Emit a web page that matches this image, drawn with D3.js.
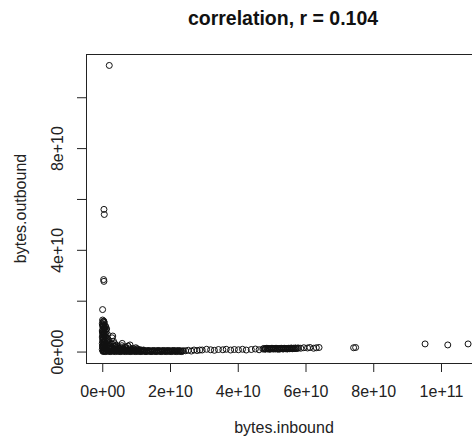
<!DOCTYPE html>
<html>
<head>
<meta charset="utf-8">
<script src="https://cdn.jsdelivr.net/npm/d3@7"></script>
<style>
  html, body { margin: 0; padding: 0; background: #fff; }
  svg { display: block; font-family: "Liberation Sans", Arial, sans-serif; }
</style>
</head>
<body>
<svg id="chart" width="472" height="437"></svg>
<script>
// [bytes.inbound, bytes.outbound] pairs, in units of 1e9 bytes
const topOutliers = [
  [2.07, 112.5], [0.5, 55.9], [0.6, 53.9], [0.4, 28.3], [0.5, 27.6], [0.1, 16.5]
];
const nearZeroColumn = [
  [0.1,12.4],[0.4,12.0],[0.2,11.6],[0.6,11.3],[0.0,10.9],[0.3,10.6],[0.5,10.2],[0.1,9.9],
  [0.4,9.5],[0.7,9.2],[0.2,8.8],[0.5,8.5],[0.0,8.1],[0.3,7.8],[0.6,7.4],[0.1,7.1],
  [0.4,6.7],[0.2,6.4],[0.7,6.0],[0.0,5.7],[0.3,5.3],[0.5,5.0],[0.1,4.6],[0.6,4.3],
  [0.2,3.9],[0.4,3.6],[0.0,3.2],[0.7,2.9],[0.3,2.5],[0.1,2.2],[0.5,1.8],[0.2,1.5],
  [0.6,1.1],[0.0,0.8],[0.4,0.4],[0.2,0.1],
  [0.5,11.8],[0.2,10.4],[0.6,9.0],[0.1,7.6],[0.5,6.2],[0.3,4.8],[0.6,3.4],[0.1,2.0],[0.5,0.6],
  [0.9,10.0],[1.0,8.6],[0.8,7.2],[1.0,5.9],[0.9,4.5],[1.1,3.0],[0.8,1.6]
];
const shoulder = [
  [1.0,9.8],[1.3,8.9],[1.1,7.6],[1.5,6.8],[1.2,5.5],[1.7,4.9],[1.4,3.9],[2.0,3.4],
  [1.6,2.6],[2.3,2.2],[1.9,1.5],[2.6,1.2],[2.2,0.8],[2.9,5.4],[3.3,4.1],[3.0,2.9],
  [3.7,3.1],[3.5,2.0],[4.2,2.5],[4.0,1.5],[4.6,1.9],[4.9,1.0],[5.4,1.6],[5.8,2.3],
  [6.2,1.2],[6.6,1.8],[7.2,1.0],[7.6,2.2],[8.1,1.4],[8.6,0.9],[9.2,1.2],[9.9,1.5],
  [10.6,0.8],[11.3,0.7],[12.2,0.6],[3.1,6.1],[5.9,3.2],[8.2,2.6],
  [1.8,4.2],[2.5,3.0],[2.8,1.8],[3.4,1.1],[3.9,2.2],[4.4,0.9],[5.0,1.3],[5.6,0.7],
  [6.4,0.9],[7.0,1.5],[7.9,0.7],[8.9,0.6],[9.6,0.8],[10.3,1.1]
];
const lowBand = [
  [0.3,0.1],[0.6,0.3],[0.9,0.0],[1.2,0.2],[1.5,0.4],[1.8,0.1],[2.1,0.3],[2.4,0.0],
  [2.7,0.2],[3.0,0.4],[3.3,0.1],[3.6,0.3],[3.9,0.0],[4.2,0.2],[4.5,0.5],[4.8,0.1],
  [5.1,0.3],[5.4,0.0],[5.7,0.2],[6.0,0.4],[6.3,0.1],[6.6,0.3],[6.9,0.0],[7.2,0.2],
  [7.5,0.5],[7.8,0.1],[8.1,0.3],[8.4,0.0],[8.7,0.2],[9.0,0.4],[9.3,0.1],[9.6,0.3],
  [9.9,0.0],[10.2,0.2],[10.5,0.4],[10.8,0.1],[11.1,0.3],[11.4,0.0],[11.7,0.2],[12.0,0.4],
  [12.3,0.1],[12.6,0.3],[12.9,0.0],[13.2,0.2],[13.5,0.4],[13.8,0.1],[14.1,0.3],[14.4,0.0],
  [14.7,0.2],[15.0,0.4],[15.3,0.1],[15.6,0.3],[15.9,0.0],[16.2,0.2],[16.5,0.4],[16.8,0.1],
  [17.1,0.3],[17.4,0.0],[17.7,0.2],[18.0,0.4],[18.3,0.1],[18.6,0.3],[18.9,0.0],[19.2,0.2],
  [19.5,0.4],[19.8,0.1],[20.1,0.3],[20.4,0.0],[20.7,0.2],[21.0,0.4],[21.3,0.1],[21.6,0.3],
  [21.9,0.0],[22.2,0.2],[22.5,0.4],[22.8,0.1],[23.1,0.3],[23.4,0.0],[23.7,0.2],[24.0,0.3],
  [0.45,0.25],[1.05,0.15],[1.65,0.3],[2.25,0.15],[2.85,0.3],[3.45,0.2],[4.05,0.35],[4.65,0.2],
  [5.25,0.15],[5.85,0.3],[6.45,0.2],[7.05,0.35],[7.65,0.15],[8.25,0.2],[8.85,0.3],[9.45,0.2],
  [10.05,0.35],[10.65,0.15],[11.25,0.2],[11.85,0.3],[12.45,0.2],[13.05,0.15],[13.65,0.3],[14.25,0.2],
  [14.85,0.15],[15.45,0.25],[16.05,0.2],[16.65,0.3],[17.25,0.15],[17.85,0.25],[18.45,0.2],[19.05,0.3],
  [19.65,0.2],[20.25,0.15],[20.85,0.3],[21.45,0.2],[22.05,0.25],[22.65,0.2],[23.25,0.15],
  [24.6,0.3],[25.4,0.5],[26.3,0.2],[27.1,0.6],[28.0,0.4],[28.8,0.6]
];
const scatteredMid = [
  [29.5,0.6],[30.8,0.9],[32.0,0.7],[33.1,0.5],[34.3,0.8],[35.6,0.7],[36.6,0.9],[37.9,0.6],
  [39.0,0.8],[40.2,0.7],[41.4,0.9],[42.5,0.6],[44.0,0.8],[45.2,1.0],[46.3,0.7]
];
const midBand = [
  [47.4,1.0],[47.7,1.2],[48.0,0.9],[48.3,1.1],[48.6,1.3],[48.9,1.0],[49.2,1.2],[49.5,0.9],
  [49.8,1.1],[50.1,1.3],[50.4,1.0],[50.7,1.2],[51.0,1.0],[51.3,1.3],[51.6,1.1],[51.9,0.9],
  [52.2,1.2],[52.5,1.0],[52.8,1.3],[53.1,1.1],[53.4,1.0],[53.7,1.3],[54.0,1.1],[54.3,1.2],
  [54.6,1.0],[54.9,1.3],[55.2,1.1],[55.5,1.2],[55.8,1.4],[56.1,1.1],[56.4,1.3],[56.7,1.2],
  [57.0,1.4],[57.3,1.2],[57.6,1.3],[57.9,1.4],
  [48.15,1.1],[48.75,1.15],[49.35,1.05],[49.95,1.2],[50.55,1.1],[51.15,1.15],[51.75,1.2],[52.35,1.1],
  [52.95,1.2],[53.55,1.15],[54.15,1.2],[54.75,1.15],[55.35,1.25],[55.95,1.2],[56.55,1.25],[57.15,1.3]
];
const farPoints = [
  [58.6,1.3],[59.5,1.5],[60.6,1.4],[61.3,1.6],[62.4,1.3],[63.2,1.5],[64.0,1.6],
  [74.2,1.5],[74.8,1.6],[95.3,3.0],[102.0,2.6],[108.0,3.0]
];
const xTicks = [0, 20, 40, 60, 80, 100];
const xTickLabels = ["0e+00", "2e+10", "4e+10", "6e+10", "8e+10", "1e+11"];
const yTicks = [0, 20, 40, 60, 80, 100];
const yTickLabels = ["0e+00", "", "4e+10", "", "8e+10", ""];
const titleText = "correlation, r = 0.104";
const xLabel = "bytes.inbound";
const yLabel = "bytes.outbound";

const points = [].concat(topOutliers, nearZeroColumn, shoulder, lowBand, scatteredMid, midBand, farPoints);

const svg = d3.select("#chart");
const mLeft = 86, mRight = 525, mTop = 54, mBottom = 363;

// R-style 4% padding around data range
const xMin = 0, xMax = 120, yMin = 0, yMax = 112.5;
const xPad = 0.04 * (xMax - xMin), yPad = 0.04 * (yMax - yMin);
const x = d3.scaleLinear().domain([xMin - xPad, xMax + xPad]).range([mLeft, mRight]);
const y = d3.scaleLinear().domain([yMin - yPad, yMax + yPad]).range([mBottom, mTop]);

// points
svg.append("g").selectAll("circle")
  .data(points)
  .join("circle")
  .attr("cx", d => x(d[0]))
  .attr("cy", d => y(d[1]))
  .attr("r", 3)
  .attr("fill", "none")
  .attr("stroke", "#111")
  .attr("stroke-width", 1);

// x axis
const gx = svg.append("g").attr("transform", `translate(0,${mBottom})`)
  .call(d3.axisBottom(x).tickValues(xTicks).tickFormat((d, i) => xTickLabels[i])
    .tickSize(9).tickSizeOuter(0));
gx.select(".domain").remove();
gx.selectAll("line").attr("stroke", "#222");
gx.selectAll("text").attr("y", 34).attr("dy", 0)
  .attr("font-size", 16).attr("fill", "#222")
  .attr("font-family", "Liberation Sans, Arial, sans-serif");

// y axis
const gy = svg.append("g").attr("transform", `translate(${mLeft},0)`)
  .call(d3.axisLeft(y).tickValues(yTicks).tickFormat((d, i) => yTickLabels[i])
    .tickSize(9).tickSizeOuter(0));
gy.select(".domain").remove();
gy.selectAll("line").attr("stroke", "#222");
gy.selectAll("text")
  .attr("x", 0).attr("dy", 0)
  .attr("transform", "translate(-23,0) rotate(-90)")
  .attr("text-anchor", "middle")
  .attr("font-size", 16).attr("fill", "#222")
  .attr("font-family", "Liberation Sans, Arial, sans-serif");

// box
svg.append("rect")
  .attr("x", mLeft + 0.5).attr("y", mTop + 0.5)
  .attr("width", mRight - mLeft).attr("height", mBottom - mTop)
  .attr("fill", "none").attr("stroke", "#222").attr("stroke-width", 1);

// title
svg.append("text").attr("x", 283).attr("y", 24.5)
  .attr("text-anchor", "middle").attr("font-weight", "bold")
  .attr("font-size", 19.5).attr("fill", "#111").text(titleText);

// axis labels
svg.append("text").attr("x", 284).attr("y", 433)
  .attr("text-anchor", "middle").attr("font-size", 16).attr("fill", "#222").text(xLabel);
svg.append("text").attr("transform", `translate(26,${(mTop + mBottom) / 2}) rotate(-90)`)
  .attr("text-anchor", "middle").attr("font-size", 16).attr("fill", "#222").text(yLabel);
</script>
</body>
</html>
